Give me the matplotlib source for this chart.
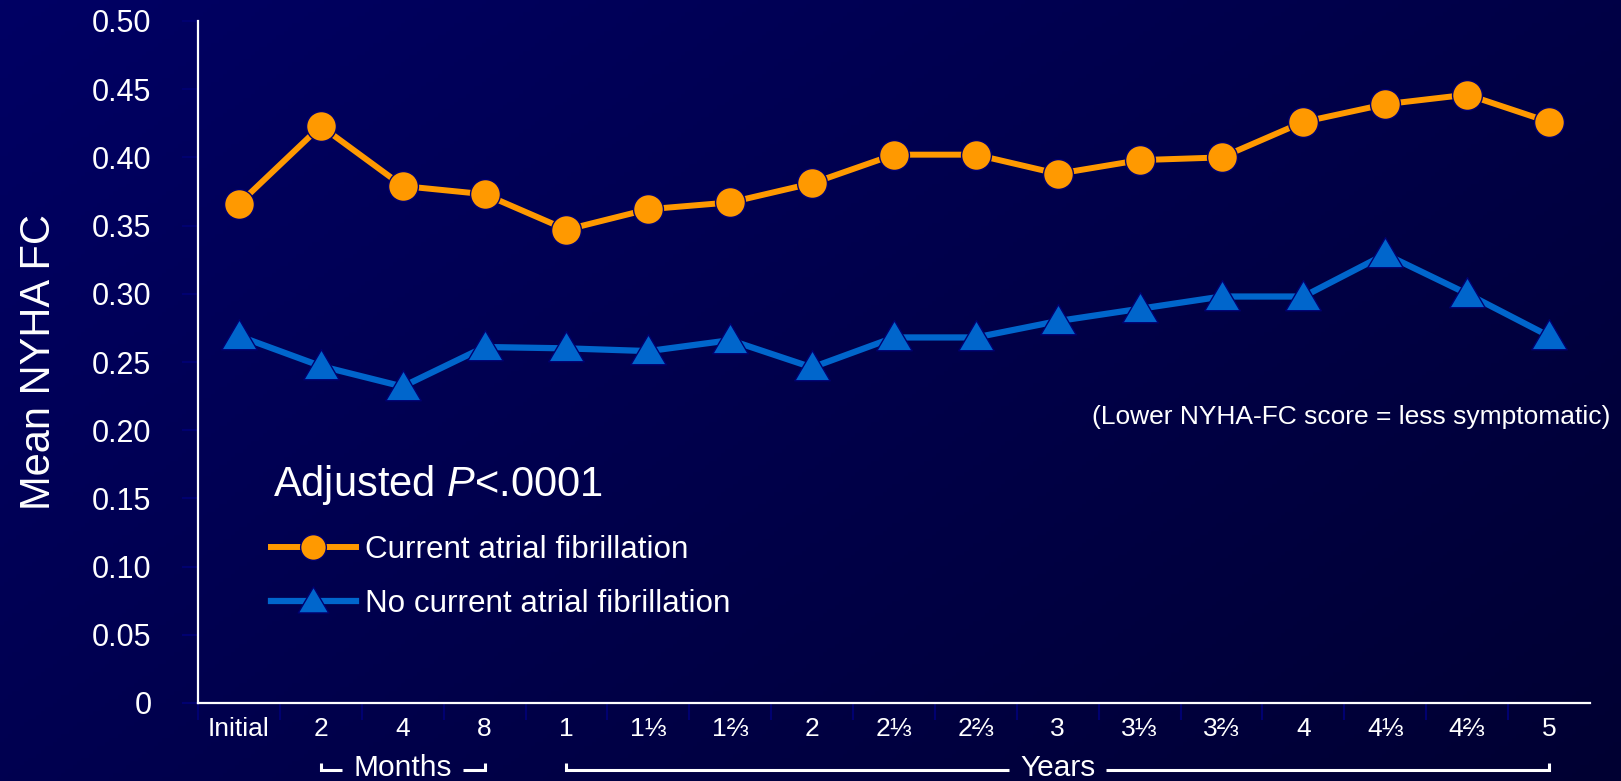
import numpy as np
import matplotlib
matplotlib.use("Agg")
import matplotlib.pyplot as plt
from matplotlib.path import Path
from matplotlib.lines import Line2D
from matplotlib.transforms import blended_transform_factory

plt.rcParams['font.family'] = ['Liberation Sans', 'DejaVu Sans']
plt.rcParams['mathtext.fontset'] = 'custom'
plt.rcParams['mathtext.rm'] = 'Liberation Sans'
plt.rcParams['mathtext.it'] = 'Liberation Sans:italic'

# ---- data -------------------------------------------------------------
categories = ['Initial', '2', '4', '8', '1', '1\u2153', '1\u2154', '2',
              '2\u2153', '2\u2154', '3', '3\u2153', '3\u2154', '4',
              '4\u2153', '4\u2154', '5']
current_af = [0.366, 0.423, 0.379, 0.373, 0.347, 0.362, 0.367, 0.381,
              0.402, 0.402, 0.388, 0.398, 0.400, 0.426, 0.439, 0.446, 0.426]
no_current_af = [0.269, 0.247, 0.232, 0.261, 0.260, 0.258, 0.266, 0.246,
                 0.268, 0.268, 0.280, 0.289, 0.298, 0.298, 0.329, 0.300, 0.269]
yticks = [0, 0.05, 0.10, 0.15, 0.20, 0.25, 0.30, 0.35, 0.40, 0.45, 0.50]
ytick_labels = ['0', '0.05', '0.10', '0.15', '0.20', '0.25', '0.30',
                '0.35', '0.40', '0.45', '0.50']
period_groups = [('Months', 1, 3), ('Years', 4, 16)]
series_labels = ['Current atrial fibrillation', 'No current atrial fibrillation']

ORANGE = '#FF9900'
BLUE = '#0066CC'
NAVY = '#000070'
W, H, DPI = 1621, 781, 100

fig = plt.figure(figsize=(W / DPI, H / DPI), dpi=DPI)

# gradient backdrop
bg = fig.add_axes([0, 0, 1, 1], zorder=-10)
yy, xx = np.mgrid[0:1:200j, 0:1:400j]
t = np.clip(0.6 * xx + 0.4 * yy, 0, 1)
top_left = np.array([0, 0, 100]) / 255
bottom_right = np.array([0, 0, 50]) / 255
img = top_left[None, None, :] * (1 - t[..., None]) + bottom_right[None, None, :] * t[..., None]
bg.imshow(img, aspect='auto', extent=[0, 1, 0, 1], origin='upper')
bg.axis('off')

ax = fig.add_axes([198 / W, 1 - 703 / H, (1590 - 198) / W, (703 - 21) / H])
ax.set_facecolor('none')

x = np.arange(len(categories))

# triangle marker a little wider than tall, anchored slightly below its middle
tri = Path([(0, 0.95), (-1, -0.75), (1, -0.75), (0, 0.95)],
           [Path.MOVETO, Path.LINETO, Path.LINETO, Path.CLOSEPOLY])

ax.plot(x, current_af, color=ORANGE, lw=4.3, marker='o', ms=21.5,
        mfc=ORANGE, mec=NAVY, mew=1.0, zorder=3)
ax.plot(x, no_current_af, color=BLUE, lw=4.5, marker=tri, ms=25.5,
        mfc=BLUE, mec=NAVY, mew=1.0, zorder=3)

ax.set_xlim(-0.5, len(categories) - 0.5)
ax.set_ylim(0, 0.5)

for side in ('top', 'right'):
    ax.spines[side].set_visible(False)
for side in ('left', 'bottom'):
    ax.spines[side].set_color('white')
    ax.spines[side].set_linewidth(1.6)

ax.set_yticks(yticks)
ax.set_yticklabels(ytick_labels)
ax.tick_params(axis='y', direction='out', length=11.5, width=1.5,
               color=NAVY, pad=22, labelsize=22, labelcolor='white')

ax.set_xticks(x)
ax.set_xticklabels(categories)
ax.set_xticks(np.arange(-0.5, len(categories) - 1, 1.0), minor=True)
ax.tick_params(axis='x', which='major', length=0, pad=10,
               labelsize=19, labelcolor='white')
ax.tick_params(axis='x', which='minor', direction='out', length=12,
               width=1.5, color=NAVY)

ax.set_ylabel('Mean NYHA FC', fontsize=30, color='white')
ax.yaxis.set_label_coords(-0.100, 0.5)

fig.text(273 / W, 1 - 496 / H, r'Adjusted $\mathit{P}$<.0001', fontsize=30,
         color='white', ha='left', va='baseline')

fig.text(1610 / W, 1 - 417 / H, '(Lower NYHA-FC score = less symptomatic)',
         fontsize=19, color='white', ha='right', va='center')

handles = [
    Line2D([], [], color=ORANGE, lw=4.3, marker='o', ms=18.5, mfc=ORANGE,
           mec=NAVY, mew=1.0),
    Line2D([], [], color=BLUE, lw=4.5, marker=tri, ms=22, mfc=BLUE,
           mec=NAVY, mew=1.0),
]
ax.legend(handles, series_labels, loc='upper left',
          bbox_to_anchor=(271 / W, 1 - 535 / H), bbox_transform=fig.transFigure,
          frameon=False, borderpad=0, borderaxespad=0, handlelength=2.7,
          handletextpad=0.28, labelspacing=0.75, fontsize=22.6, labelcolor='white')

# period brackets under the category labels
trans = blended_transform_factory(ax.transData, fig.transFigure)
bracket_y = 1 - 770 / H
end_y = 1 - 763 / H
texts = []
for name, i0, i1 in period_groups:
    mid = (i0 + i1) / 2
    txt = ax.text(mid, 1 - 768 / H, name, transform=trans, fontsize=21.5,
                  color='white', ha='center', va='center', clip_on=False)
    texts.append((txt, i0, i1))

fig.canvas.draw()
renderer = fig.canvas.get_renderer()
inv = ax.transData.inverted()
gap_px = 11
for txt, i0, i1 in texts:
    bb = txt.get_window_extent(renderer)
    left = inv.transform((bb.x0 - gap_px, 0))[0]
    right = inv.transform((bb.x1 + gap_px, 0))[0]
    kw = dict(color='white', lw=2.2, transform=trans, clip_on=False,
              solid_capstyle='butt', solid_joinstyle='miter')
    ax.plot([i0, i0, left], [end_y, bracket_y, bracket_y], **kw)
    ax.plot([right, i1, i1], [bracket_y, bracket_y, end_y], **kw)

fig.savefig('out.png', dpi=DPI)
